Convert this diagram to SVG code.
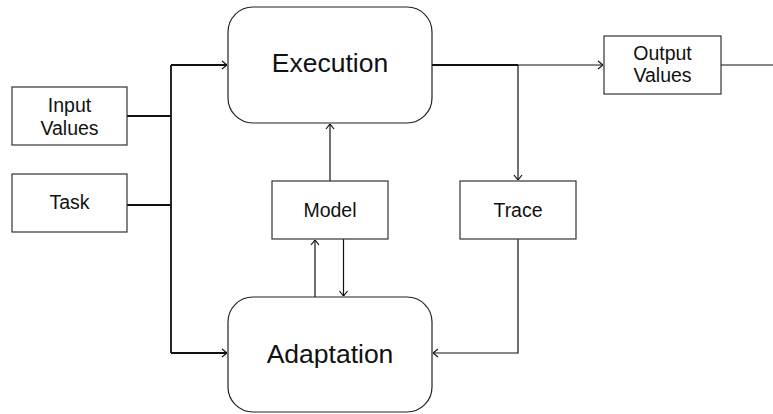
<svg xmlns="http://www.w3.org/2000/svg" width="773" height="414" viewBox="0 0 773 414">
<defs>
<style>
.box{fill:#fff;stroke:#333;stroke-width:1.2}
.rbox{fill:#fff;stroke:#222;stroke-width:1.2}
.lbl{font-family:"Liberation Sans",Arial,sans-serif;font-size:19.5px;fill:#111;text-anchor:middle}
.big{font-family:"Liberation Sans",Arial,sans-serif;font-size:26.5px;fill:#111;text-anchor:middle}
.c{fill:none;stroke:#111;stroke-width:1.2}
.ct{fill:none;stroke:#111;stroke-width:1.8}
</style>
<marker id="a" viewBox="0 0 10 10" refX="10" refY="5" markerWidth="10" markerHeight="10" markerUnits="userSpaceOnUse" orient="auto">
<path d="M5,1 L10,5 L5,9" fill="none" stroke="#111" stroke-width="1.2"/>
</marker>
</defs>
<rect width="773" height="414" fill="#fff"/>
<g id="connectors">
<path class="ct" d="M127,116 H171"/>
<path class="ct" d="M127,205 H171"/>
<path class="ct" d="M171,65 V353"/>
<path class="ct" d="M171,65 H227" marker-end="url(#a)"/>
<path class="ct" d="M171,353 H227" marker-end="url(#a)"/>
<path class="c" d="M330,181 V124" marker-end="url(#a)"/>
<path class="c" d="M315,297 V240" marker-end="url(#a)"/>
<path class="c" d="M343.5,239 V296" marker-end="url(#a)"/>
<path class="ct" d="M432,65 H518"/>
<path class="c" d="M518,65 H603" marker-end="url(#a)"/>
<path class="c" d="M518,65 V180" marker-end="url(#a)"/>
<path class="c" d="M518,239 V353 H433" marker-end="url(#a)"/>
<path class="c" d="M721,65 H773"/>
</g>
<g id="execution">
<rect class="rbox" x="228" y="7" width="204" height="116" rx="25"/>
<text class="big" x="330" y="72">Execution</text>
</g>
<g id="adaptation">
<rect class="rbox" x="228" y="297" width="204" height="115" rx="25"/>
<text class="big" x="330" y="363">Adaptation</text>
</g>
<g id="input-values">
<rect class="box" x="12" y="87" width="115" height="58"/>
<text class="lbl" x="69.5" y="112">Input</text>
<text class="lbl" x="69.5" y="134.5">Values</text>
</g>
<g id="task">
<rect class="box" x="12" y="174" width="115" height="58"/>
<text class="lbl" x="69.5" y="208.5">Task</text>
</g>
<g id="model">
<rect class="box" x="272" y="181" width="116" height="58"/>
<text class="lbl" x="330" y="216.5">Model</text>
</g>
<g id="trace">
<rect class="box" x="460" y="181" width="116" height="58"/>
<text class="lbl" x="518" y="216.5">Trace</text>
</g>
<g id="output-values">
<rect class="box" x="604" y="36" width="117" height="58"/>
<text class="lbl" x="662.5" y="59.5">Output</text>
<text class="lbl" x="662.5" y="82">Values</text>
</g>
</svg>
